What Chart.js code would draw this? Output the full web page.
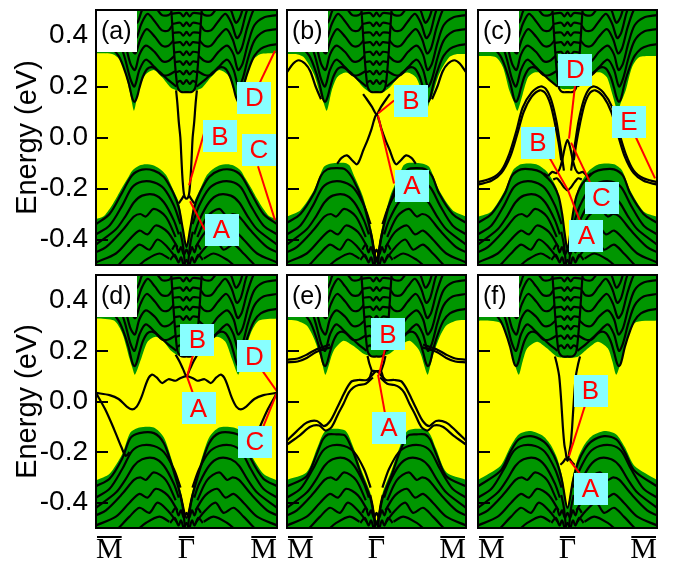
<!DOCTYPE html>
<html><head><meta charset="utf-8">
<script src="https://cdn.jsdelivr.net/npm/chart.js@4.4.1/dist/chart.umd.min.js"></script>
<style>
html,body{margin:0;padding:0;background:#fff;}
#wrap{position:relative;width:681px;height:564px;overflow:hidden;background:#fff;}
canvas{position:absolute;}
</style></head><body><div id="wrap"></div>
<script>
// ---------- axis ticks ----------
const K_TICKS = [-1, 0, 1];
const K_LABELS = ['M', '\u0393', 'M'];
const E_TICKS = [-0.4, -0.2, 0, 0.2, 0.4];
const E_LABELS = ['-0.4', '-0.2', '0.0', '0.2', '0.4'];
const PANEL_NAMES = ['(a)', '(b)', '(c)', '(d)', '(e)', '(f)'];

// ---------- half curves [k, E], k from Gamma (0) to M (1); mirrored to -k ----------
const GAP_TOP_A = [[0,0.178],[0.05,0.178],[0.1,0.184],[0.176,0.196],[0.267,0.235],[0.36,0.265],[0.45,0.248],[0.505,0.209],[0.545,0.16],[0.58,0.105],[0.605,0.14],[0.63,0.184],[0.68,0.255],[0.725,0.3],[0.8,0.325],[0.9,0.33],[1,0.33]];
const GAP_BOT_A = [[0,-0.43],[0.03,-0.39],[0.08,-0.26],[0.16,-0.195],[0.22,-0.15],[0.27,-0.13],[0.36,-0.11],[0.45,-0.105],[0.52,-0.11],[0.6,-0.13],[0.65,-0.16],[0.71,-0.195],[0.78,-0.24],[0.85,-0.28],[0.92,-0.31],[1,-0.32]];
const GAP_TOP_B = [[0,0.175],[0.07,0.177],[0.15,0.197],[0.26,0.242],[0.35,0.255],[0.44,0.236],[0.5,0.184],[0.555,0.105],[0.595,0.14],[0.63,0.171],[0.7,0.249],[0.81,0.314],[0.9,0.327],[1,0.327]];
const GAP_BOT_B = [[0,-0.47],[0.055,-0.363],[0.15,-0.233],[0.26,-0.142],[0.3,-0.11],[0.35,-0.1],[0.45,-0.1],[0.52,-0.103],[0.59,-0.116],[0.7,-0.207],[0.85,-0.285],[1,-0.31]];
const GAP_TOP_C = [[0,0.19],[0.055,0.19],[0.13,0.203],[0.26,0.249],[0.37,0.255],[0.44,0.236],[0.5,0.171],[0.56,0.105],[0.6,0.14],[0.65,0.184],[0.72,0.275],[0.8,0.315],[1,0.32]];
const GAP_BOT_C = [[0,-0.44],[0.03,-0.38],[0.07,-0.28],[0.12,-0.2],[0.18,-0.16],[0.24,-0.13],[0.35,-0.105],[0.52,-0.105],[0.61,-0.129],[0.7,-0.207],[0.85,-0.29],[1,-0.311]];
const GAP_TOP_D = [[0,0.178],[0.1,0.184],[0.18,0.204],[0.25,0.236],[0.34,0.256],[0.43,0.236],[0.5,0.17],[0.57,0.106],[0.6,0.135],[0.63,0.17],[0.71,0.27],[0.8,0.32],[1,0.328]];
const GAP_BOT_D = [[0,-0.456],[0.066,-0.352],[0.16,-0.234],[0.25,-0.142],[0.36,-0.103],[0.52,-0.103],[0.62,-0.123],[0.71,-0.208],[0.85,-0.286],[1,-0.312]];
const GAP_TOP_E = [[0,0.18],[0.07,0.18],[0.15,0.19],[0.26,0.22],[0.37,0.24],[0.48,0.2],[0.57,0.106],[0.6,0.14],[0.63,0.18],[0.7,0.25],[0.78,0.3],[0.9,0.32],[1,0.322]];
const GAP_BOT_E = [[0,-0.47],[0.07,-0.36],[0.17,-0.27],[0.26,-0.18],[0.35,-0.115],[0.54,-0.11],[0.6,-0.13],[0.67,-0.19],[0.78,-0.28],[1,-0.31]];
const GAP_TOP_F = [[0,0.172],[0.12,0.178],[0.23,0.21],[0.34,0.236],[0.45,0.21],[0.5,0.16],[0.545,0.106],[0.6,0.16],[0.64,0.21],[0.75,0.31],[1,0.32]];
const GAP_BOT_F = [[0,-0.416],[0.063,-0.29],[0.12,-0.22],[0.19,-0.17],[0.27,-0.137],[0.41,-0.117],[0.545,-0.13],[0.64,-0.18],[0.75,-0.255],[1,-0.31]];

// bulk conduction bands (shared)
const C1 = [[0.11,0.2],[0.2,0.225],[0.3,0.258],[0.37,0.275],[0.43,0.27],[0.48,0.24],[0.52,0.195],[0.55,0.155],[0.575,0.14],[0.6,0.155],[0.64,0.215],[0.7,0.28],[0.75,0.32],[0.82,0.348],[0.9,0.36],[1,0.366]];
const C2 = [[0.125,0.26],[0.2,0.245],[0.27,0.245],[0.35,0.275],[0.45,0.305],[0.52,0.265],[0.575,0.2],[0.62,0.23],[0.68,0.31],[0.75,0.38],[0.85,0.415],[1,0.425]];
const C3 = [[0.133,0.32],[0.2,0.3],[0.27,0.3],[0.35,0.335],[0.45,0.36],[0.52,0.325],[0.57,0.265],[0.62,0.29],[0.68,0.37],[0.75,0.44],[0.85,0.47],[1,0.48]];
const C4 = [[0.145,0.38],[0.2,0.36],[0.27,0.36],[0.35,0.395],[0.44,0.425],[0.51,0.385],[0.565,0.33],[0.61,0.35],[0.67,0.43],[0.74,0.5],[0.8,0.53]];
const C5 = [[0.157,0.44],[0.2,0.42],[0.27,0.42],[0.35,0.455],[0.43,0.485],[0.5,0.445],[0.555,0.39],[0.6,0.41],[0.66,0.49],[0.72,0.54]];
const C6 = [[0.166,0.49],[0.2,0.48],[0.27,0.48],[0.35,0.515]];
const C7 = [[0.42,0.53],[0.49,0.5],[0.545,0.45],[0.59,0.47],[0.65,0.54]];
const CEDGE = [[0,0.178],[0.05,0.178],[0.08,0.185],[0.1,0.2],[0.12,0.26],[0.14,0.35],[0.155,0.43],[0.17,0.51]];
const GAMMA_RIBS = [
  [[0,0.225],[0.035,0.21],[0.07,0.222],[0.105,0.215]],
  [[0,0.262],[0.035,0.247],[0.07,0.26],[0.119,0.255]],
  [[0,0.3],[0.035,0.285],[0.07,0.298],[0.129,0.295]],
  [[0,0.338],[0.035,0.323],[0.07,0.336],[0.136,0.333]],
  [[0,0.376],[0.035,0.361],[0.07,0.374],[0.143,0.37]],
  [[0,0.414],[0.035,0.399],[0.07,0.412],[0.151,0.41]],
  [[0,0.452],[0.035,0.437],[0.07,0.45],[0.158,0.445]],
  [[0,0.49],[0.035,0.475],[0.07,0.488],[0.165,0.485]]
];
// bulk valence bands (shared)
const V2 = [[0.066,-0.34],[0.14,-0.267],[0.25,-0.2],[0.36,-0.176],[0.49,-0.173],[0.6,-0.195],[0.71,-0.267],[0.85,-0.345],[1,-0.38]];
const V3 = [[0.085,-0.38],[0.14,-0.325],[0.25,-0.254],[0.36,-0.224],[0.49,-0.228],[0.58,-0.254],[0.67,-0.306],[0.78,-0.36],[1,-0.42]];
const V4 = [[0.12,-0.39],[0.23,-0.31],[0.36,-0.28],[0.45,-0.31],[0.51,-0.3],[0.58,-0.31],[0.71,-0.365],[0.89,-0.43],[1,-0.45]];
const V5 = [[0.1,-0.43],[0.21,-0.37],[0.34,-0.345],[0.43,-0.38],[0.52,-0.365],[0.63,-0.4],[0.78,-0.455],[1,-0.49]];
const V6 = [[0.1,-0.48],[0.21,-0.43],[0.32,-0.4],[0.41,-0.44],[0.52,-0.42],[0.63,-0.455],[0.75,-0.5]];
const V7 = [[0.19,-0.475],[0.3,-0.455],[0.45,-0.48],[0.55,-0.51]];
const VB1 = [[0,-0.44],[0.03,-0.46],[0.06,-0.43],[0.09,-0.45],[0.12,-0.42],[0.16,-0.44]];
const VB2 = [[0,-0.48],[0.03,-0.5],[0.06,-0.47],[0.09,-0.49],[0.13,-0.46],[0.18,-0.48]];
const VIN = [[0.015,-0.51],[0.03,-0.45],[0.045,-0.41],[0.07,-0.37]];
// top valence band for each panel
const V1_A = [[0,-0.43],[0.04,-0.36],[0.085,-0.275],[0.15,-0.215],[0.25,-0.155],[0.36,-0.13],[0.49,-0.126],[0.6,-0.148],[0.71,-0.215],[0.85,-0.3],[1,-0.34]];
const V1_B = [[0,-0.48],[0.055,-0.385],[0.15,-0.255],[0.26,-0.165],[0.35,-0.125],[0.45,-0.12],[0.55,-0.125],[0.62,-0.15],[0.7,-0.22],[0.85,-0.3],[1,-0.335]];
const V1_C = [[0,-0.44],[0.03,-0.38],[0.06,-0.3],[0.1,-0.23],[0.16,-0.185],[0.22,-0.16],[0.3,-0.135],[0.4,-0.125],[0.52,-0.125],[0.62,-0.15],[0.7,-0.22],[0.85,-0.3],[1,-0.335]];
const V1_D = [[0,-0.46],[0.066,-0.37],[0.16,-0.255],[0.25,-0.165],[0.36,-0.125],[0.52,-0.125],[0.62,-0.145],[0.71,-0.225],[0.85,-0.305],[1,-0.335]];
const V1_E = [[0,-0.48],[0.07,-0.38],[0.17,-0.29],[0.26,-0.2],[0.35,-0.135],[0.45,-0.13],[0.54,-0.13],[0.6,-0.15],[0.67,-0.21],[0.78,-0.295],[1,-0.335]];
const V1_F = [[0,-0.42],[0.063,-0.31],[0.12,-0.24],[0.19,-0.19],[0.27,-0.157],[0.41,-0.137],[0.545,-0.15],[0.64,-0.2],[0.75,-0.275],[1,-0.335]];

// surface states
const SS_A = [[0,-0.24],[0.015,-0.236],[0.028,-0.222],[0.038,-0.19],[0.048,-0.14],[0.058,-0.07],[0.068,0.0],[0.085,0.06],[0.1,0.13],[0.115,0.185]];
const SSF_A = [[0.03,-0.228],[0.055,-0.243],[0.085,-0.258]];
const SS_B_UP = [[0,0.092],[0.05,0.12],[0.11,0.151],[0.15,0.17]];
const SS_B_LOW = [[0,0.092],[0.03,0.065],[0.055,0.034],[0.1,-0.01],[0.148,-0.05],[0.19,-0.09],[0.22,-0.105],[0.27,-0.09],[0.33,-0.07],[0.39,-0.08],[0.44,-0.103]];
const SS_B_TOP = [[0.62,0.15],[0.68,0.2],[0.74,0.26],[0.8,0.29],[0.87,0.303],[0.93,0.29],[1,0.256]];
const DOME1_C = [[0.04,-0.13],[0.06,-0.08],[0.09,-0.01],[0.125,0.066],[0.18,0.145],[0.24,0.19],[0.3,0.2],[0.4,0.177],[0.5,0.118],[0.57,0.027],[0.65,-0.064],[0.74,-0.13],[0.85,-0.16],[1,-0.175]];
const DOME2_C = [[0.07,-0.09],[0.1,-0.02],[0.14,0.055],[0.19,0.13],[0.25,0.175],[0.31,0.185],[0.4,0.16],[0.49,0.1],[0.56,0.015],[0.64,-0.075],[0.74,-0.14],[0.85,-0.17],[1,-0.185]];
const PEAK_C = [[0,-0.009],[0.03,-0.04],[0.06,-0.09],[0.09,-0.125],[0.125,-0.14],[0.17,-0.135],[0.22,-0.15],[0.27,-0.14]];
const VBOT_C = [[0,-0.207],[0.04,-0.195],[0.08,-0.175],[0.12,-0.16],[0.16,-0.165]];
const SS_D_UP = [[0,0.1],[0.04,0.13],[0.08,0.16],[0.12,0.185]];
const SS_D_WAVE = [[0,0.1],[0.066,0.093],[0.12,0.082],[0.2,0.088],[0.27,0.073],[0.33,0.095],[0.38,0.106],[0.43,0.085],[0.5,0.015],[0.55,-0.02],[0.6,-0.031],[0.66,-0.02],[0.75,0.01],[0.85,0.025],[1,0.034]];
const SS_D_L1 = [[0.63,-0.2],[0.67,-0.215],[0.72,-0.18],[0.8,-0.11],[0.9,-0.03],[1,0.034]];
const SS_E1 = [[0,0.12],[0.06,0.1],[0.108,0.085],[0.2,0.085],[0.275,0.08],[0.33,0.054],[0.387,0.014],[0.44,-0.025],[0.517,-0.077],[0.59,-0.097],[0.665,-0.077],[0.777,-0.083],[0.888,-0.116],[1,-0.155]];
const SS_E2 = [[0.04,0.095],[0.12,0.07],[0.2,0.065],[0.26,0.055],[0.31,0.035],[0.37,-0.01],[0.43,-0.05],[0.5,-0.1],[0.57,-0.115],[0.64,-0.095],[0.74,-0.1],[0.86,-0.135],[1,-0.17]];
const SS_E_T1 = [[0.52,0.225],[0.6,0.215],[0.68,0.205],[0.78,0.185],[0.88,0.17],[1,0.165]];
const SS_E_T2 = [[0.5,0.215],[0.6,0.205],[0.68,0.195],[0.78,0.172],[0.88,0.158],[1,0.155]];
const SS_E_BOX = [[0,0.12],[0.05,0.12],[0.07,0.1],[0.09,0.08]];
const SS_E_BOXUP = [[0.05,0.12],[0.08,0.15],[0.1,0.18]];
const SS_F = [[0,-0.235],[0.01,-0.225],[0.02,-0.2],[0.035,-0.17],[0.052,-0.1],[0.07,0.0],[0.093,0.1],[0.12,0.15],[0.14,0.178]];
const SSF_F = [[0.02,-0.225],[0.05,-0.24],[0.08,-0.25]];

// labels: [letter, boxK, boxE, lineFromK, lineFromE, lineToK, lineToE]
const LBL_A = [['B',0.37,0.004,0.193,0.016,0.028,-0.1875],['A',0.387,-0.361,0.204,-0.363,0.039,-0.25],['D',0.75,0.154,0.81,0.215,0.978,0.34],['C',0.80,-0.05,0.79,-0.113,0.978,-0.324]];
const LBL_B = [['B',0.385,0.145,0.196,0.145,0.017,0.094],['A',0.397,-0.19,0.196,-0.18,0.017,0.086]];
const LBL_C = [['D',0.089,0.266,0.084,0.203,0.017,-0.004],['B',-0.33,-0.02,-0.196,-0.082,0.006,-0.207],['C',0.38,-0.238,0.263,-0.184,0.04,-0.02],['A',0.212,-0.387,0.14,-0.328,0.006,-0.207],['E',0.687,0.06,0.765,0.0,0.978,-0.16]];
const LBL_D = [['B',0.12,0.243,0.072,0.184,0.006,0.098],['A',0.133,-0.027,0.072,0.031,0.006,0.098],['D',0.75,0.178,0.845,0.118,1.0,0.04],['C',0.757,-0.16,0.845,-0.102,1.0,0.035]];
const LBL_E = [['B',0.128,0.265,0.095,0.208,0.028,0.106],['A',0.14,-0.104,0.095,-0.047,0.017,0.106]];
const LBL_F = [['B',0.257,0.041,0.196,-0.016,0.017,-0.216],['A',0.257,-0.347,0.14,-0.286,0.028,-0.235]];

// ---------- styles ----------
const GREEN = 'rgb(0,150,0)', YELLOW = '#ffff00', CYAN = '#88ffff', RED = '#ff0000';
const XFONT = '30px "Liberation Serif", "Times New Roman", serif';

const SHARED = [C1, C2, C3, C4, C5, C6, C7, CEDGE].concat(GAMMA_RIBS, [V2, V3, V4, V5, V6, V7, VB1, VB2, VIN]);
const PANELS = [
  {top: GAP_TOP_A, bot: GAP_BOT_A, v1: V1_A, ss: [SS_A, SSF_A], lbl: LBL_A},
  {top: GAP_TOP_B, bot: GAP_BOT_B, v1: V1_B, ss: [SS_B_UP, SS_B_LOW, SS_B_TOP], lbl: LBL_B},
  {top: GAP_TOP_C, bot: GAP_BOT_C, v1: V1_C, ss: [DOME1_C, DOME2_C, PEAK_C, VBOT_C], lbl: LBL_C},
  {top: GAP_TOP_D, bot: GAP_BOT_D, v1: V1_D, ss: [SS_D_UP, SS_D_WAVE, SS_D_L1], lbl: LBL_D},
  {top: GAP_TOP_E, bot: GAP_BOT_E, v1: V1_E, ss: [SS_E1, SS_E2, SS_E_T1, SS_E_T2, SS_E_BOX, SS_E_BOXUP], lbl: LBL_E},
  {top: GAP_TOP_F, bot: GAP_BOT_F, v1: V1_F, ss: [SS_F, SSF_F], lbl: LBL_F}
];

function mirror(half) {
  const h = half.slice();
  if (h[0][0] > h[h.length - 1][0]) h.reverse();
  const left = h.slice().reverse().map(p => ({x: -p[0], y: p[1]}));
  const right = h.map(p => ({x: p[0], y: p[1]}));
  if (h[0][0] === 0) return left.concat(right.slice(1));
  return left.concat([{x: 0, y: null}], right);
}
function lineDS(half) {
  return {data: mirror(half), borderColor: '#000', borderWidth: 2.2, pointRadius: 0, tension: 0.3, fill: false};
}
function fillDS(half, target) {
  return {data: mirror(half), borderColor: 'rgba(0,0,0,0)', borderWidth: 0, backgroundColor: GREEN, pointRadius: 0, tension: 0.25, fill: target};
}

const COL_L = [96, 287, 478], COL_R = [277, 466, 657];
const wrap = document.getElementById('wrap');

PANELS.forEach((p, i) => {
  const col = i % 3, row = Math.floor(i / 3);
  const cv = document.createElement('canvas');
  const left = col === 0 ? 0 : COL_L[col] - 2;
  const width = col === 0 ? COL_R[0] + 2 : (COL_R[col] - COL_L[col]) + 4;
  const top = row === 0 ? 0 : 266;
  const height = row === 0 ? 267 : 298;
  cv.width = width; cv.height = height;
  cv.style.left = left + 'px'; cv.style.top = top + 'px';
  cv.style.width = width + 'px'; cv.style.height = height + 'px';
  wrap.appendChild(cv);

  const datasets = [];
  p.ss.forEach(h => datasets.push(lineDS(h)));
  datasets.push(lineDS(p.v1));
  SHARED.forEach(h => datasets.push(lineDS(h)));
  datasets.push(fillDS(p.top, 'end'));
  datasets.push(fillDS(p.bot, 'start'));

  const deco = {
    id: 'deco' + i,
    beforeDraw(chart) {
      const a = chart.chartArea, ctx = chart.ctx;
      ctx.save(); ctx.fillStyle = YELLOW;
      ctx.fillRect(a.left, a.top, a.right - a.left, a.bottom - a.top);
      ctx.restore();
    },
    afterDatasetsDraw(chart) {
      const a = chart.chartArea, ctx = chart.ctx;
      const xs = chart.scales.x, ys = chart.scales.y;
      ctx.save();
      ctx.beginPath(); ctx.rect(a.left, a.top, a.right - a.left, a.bottom - a.top); ctx.clip();
      ctx.strokeStyle = '#000'; ctx.lineWidth = 2;
      E_TICKS.forEach(v => {
        const y = Math.round(ys.getPixelForValue(v));
        ctx.beginPath(); ctx.moveTo(a.left, y); ctx.lineTo(a.left + 12, y); ctx.stroke();
      });
      ctx.strokeStyle = RED; ctx.lineWidth = 2;
      p.lbl.forEach(l => {
        ctx.beginPath();
        ctx.moveTo(xs.getPixelForValue(l[3]), ys.getPixelForValue(l[4]));
        ctx.lineTo(xs.getPixelForValue(l[5]), ys.getPixelForValue(l[6]));
        ctx.stroke();
      });
      p.lbl.forEach(l => {
        const cx = xs.getPixelForValue(l[1]), cy = ys.getPixelForValue(l[2]);
        ctx.fillStyle = CYAN;
        ctx.fillRect(Math.round(cx - 17), Math.round(cy - 16), 34, 32);
        ctx.fillStyle = RED; ctx.font = '26px "Liberation Sans", Arial, sans-serif';
        ctx.textAlign = 'center'; ctx.textBaseline = 'middle';
        ctx.fillText(l[0], cx, cy + 1);
      });
      ctx.fillStyle = '#fff';
      ctx.fillRect(a.left + 1, a.top + 1, 40, 41);
      ctx.fillStyle = '#000'; ctx.font = '25px "Liberation Sans", Arial, sans-serif';
      ctx.textAlign = 'left'; ctx.textBaseline = 'middle';
      ctx.fillText(PANEL_NAMES[i], a.left + 5, a.top + 22);
      ctx.restore();
      ctx.save(); ctx.strokeStyle = '#000'; ctx.lineWidth = 2;
      ctx.strokeRect(a.left, a.top, a.right - a.left, a.bottom - a.top);
      ctx.restore();
    },
    afterDraw(chart) {
      if (row !== 1) return;
      const a = chart.chartArea, ctx = chart.ctx, xs = chart.scales.x;
      ctx.save(); ctx.font = XFONT; ctx.strokeStyle = '#000'; ctx.lineWidth = 2;
      K_TICKS.forEach((v, j) => {
        const w = ctx.measureText(K_LABELS[j]).width;
        const px = xs.getPixelForValue(v);
        const x0 = j === 0 ? px : (j === K_TICKS.length - 1 ? px - w : px - w / 2);
        const y = a.bottom + 9;
        ctx.beginPath(); ctx.moveTo(x0 + 1, y); ctx.lineTo(x0 + w - 1, y); ctx.stroke();
      });
      ctx.restore();
    }
  };

  new Chart(cv, {
    type: 'line',
    data: {datasets},
    plugins: [deco],
    options: {
      responsive: false, animation: false, events: [],
      layout: {padding: {left: col === 0 ? 0 : 2, right: 2, top: row === 0 ? 10 : 9, bottom: row === 0 ? 2 : 0}},
      plugins: {legend: {display: false}, tooltip: {enabled: false}},
      scales: {
        x: {
          type: 'linear', min: -1, max: 1, display: row === 1,
          grid: {display: false, drawTicks: false}, border: {display: false},
          afterBuildTicks: s => { s.ticks = K_TICKS.map(v => ({value: v})); },
          afterFit: s => { if (row === 1) { s.height = 36; s.paddingLeft = 0; s.paddingRight = 0; } },
          ticks: {
            callback: v => K_LABELS[K_TICKS.indexOf(v)],
            font: {family: '"Liberation Serif", "Times New Roman", serif', size: 30},
            color: '#000', align: 'inner', padding: 4, maxRotation: 0, autoSkip: false
          }
        },
        y: {
          type: 'linear', min: -0.5, max: 0.5, display: col === 0,
          grid: {display: false, drawTicks: false}, border: {display: false},
          afterBuildTicks: s => { s.ticks = E_TICKS.map(v => ({value: v})); },
          afterFit: s => { if (col === 0) { s.width = 96; } s.paddingTop = 0; s.paddingBottom = 0; },
          ticks: {
            callback: v => E_LABELS[E_TICKS.indexOf(v)],
            font: {family: '"Liberation Sans", Arial, sans-serif', size: 28},
            color: '#000', padding: 8, autoSkip: false
          },
          title: {display: true, text: 'Energy (eV)', color: '#000',
                  font: {family: '"Liberation Sans", Arial, sans-serif', size: 29},
                  padding: {top: 11, bottom: 0}}
        }
      }
    }
  });
});
</script></body></html>
